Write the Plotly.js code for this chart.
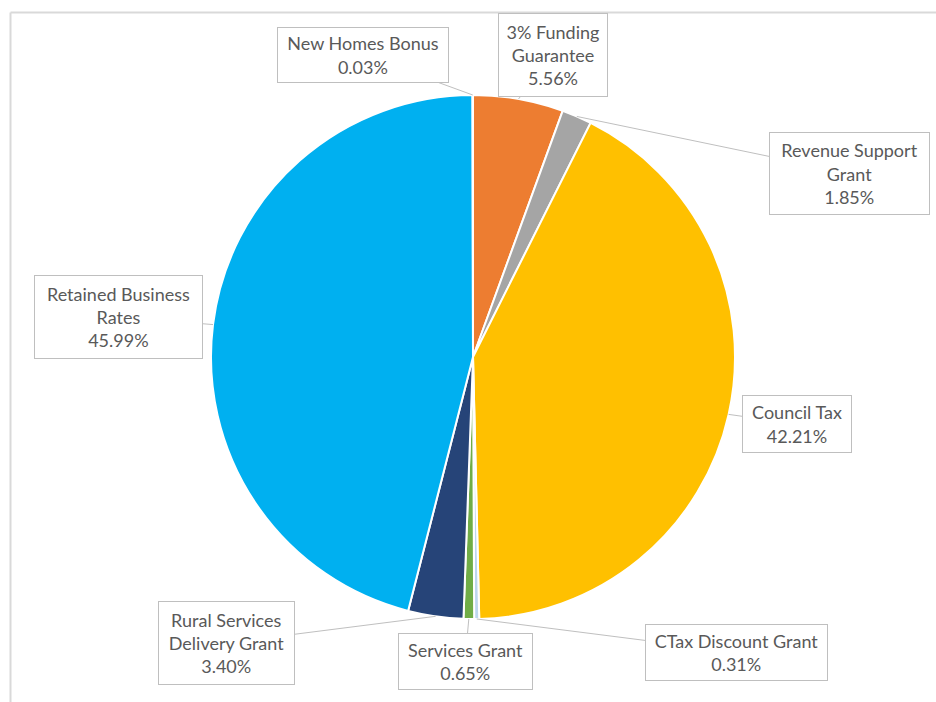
<!DOCTYPE html>
<html>
<head>
<meta charset="utf-8">
<script src="https://cdn.plot.ly/plotly-3.0.1.min.js"></script>
<style>html,body{margin:0;padding:0;background:#fff;}#chart{width:936px;height:702px;}</style>
</head>
<body>
<div id="chart"></div>
<script>
// ---- data ----
const categories = ["3% Funding Guarantee", "Revenue Support Grant", "Council Tax", "CTax Discount Grant",
  "Services Grant", "Rural Services Delivery Grant", "Retained Business Rates", "New Homes Bonus"];
const labelLines = ["3% Funding<br>Guarantee", "Revenue Support<br>Grant", "Council Tax", "CTax Discount Grant",
  "Services Grant", "Rural Services<br>Delivery Grant", "Retained Business<br>Rates", "New Homes Bonus"];
const shares = [5.56, 1.85, 42.21, 0.31, 0.65, 3.40, 45.99, 0.03];
const colors = ["#ED7D31", "#A5A5A5", "#FFC000", "#BDD7EE", "#70AD47", "#264478", "#00B0F0", "#9E480E"];

// ---- layout geometry ----
const W = 936, H = 702;
const cx = 473, cy = 357, R = 262;
// label box centres and sizes (px)
const boxes = [
  {x: 553, y: 55, w: 110, h: 84},
  {x: 849, y: 173, w: 161, h: 83},
  {x: 797, y: 424, w: 110, h: 58},
  {x: 736, y: 652, w: 183, h: 57},
  {x: 465, y: 661, w: 135, h: 57},
  {x: 226, y: 643, w: 137, h: 84},
  {x: 118, y: 317, w: 169, h: 84},
  {x: 363, y: 55, w: 172, h: 56}
];

const total = shares.reduce((a, b) => a + b, 0);
let cum = 0;
const annotations = shares.map((v, i) => {
  const mid = (cum + v / 2) / total * 2 * Math.PI;
  cum += v;
  const px = cx + R * Math.sin(mid);
  const py = cy - R * Math.cos(mid);
  const b = boxes[i];
  return {
    xref: 'paper', yref: 'paper',
    x: px / W, y: 1 - py / H,
    axref: 'pixel', ayref: 'pixel',
    ax: b.x - px, ay: b.y - py,
    text: labelLines[i] + '<br>' + v.toFixed(2) + '%',
    showarrow: true, arrowhead: 0, arrowwidth: 1, arrowcolor: '#BFBFBF', standoff: 0,
    bordercolor: '#BFBFBF', borderwidth: 1, borderpad: 2, bgcolor: '#FFFFFF',
    width: b.w - 6, height: b.h - 6,
    font: {family: 'Lato, "Open Sans", sans-serif', size: 18, color: '#595959'},
    align: 'center', valign: 'middle'
  };
});

const data = [{
  type: 'pie',
  labels: categories,
  values: shares,
  sort: false,
  direction: 'clockwise',
  rotation: 0,
  textinfo: 'none',
  hoverinfo: 'label+percent',
  marker: {colors: colors, line: {color: '#FFFFFF', width: 2}},
  domain: {x: [(cx - R) / W, (cx + R) / W], y: [1 - (cy + R) / H, 1 - (cy - R) / H]},
  showlegend: false
}];

const layout = {
  width: W, height: H,
  margin: {l: 0, r: 0, t: 0, b: 0},
  paper_bgcolor: '#FFFFFF',
  showlegend: false,
  annotations: annotations,
  shapes: [
    {type: 'line', xref: 'paper', yref: 'paper', x0: 10.5 / W, x1: 1, y0: 1 - 12.5 / H, y1: 1 - 12.5 / H,
     line: {color: '#D9D9D9', width: 2}, layer: 'below'},
    {type: 'line', xref: 'paper', yref: 'paper', x0: 10.5 / W, x1: 10.5 / W, y0: 0, y1: 1 - 12.5 / H,
     line: {color: '#D9D9D9', width: 2}, layer: 'below'}
  ]
};

Plotly.newPlot('chart', data, layout, {displayModeBar: false, staticPlot: true});
</script>
</body>
</html>
